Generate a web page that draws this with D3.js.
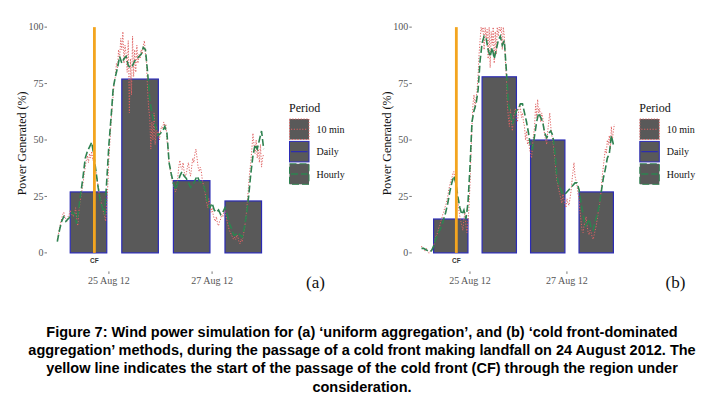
<!DOCTYPE html>
<html>
<head>
<meta charset="utf-8">
<script src="https://cdn.jsdelivr.net/npm/d3@7"></script>
<style>
  html, body { margin: 0; padding: 0; background: #fff; }
  svg { display: block; }
</style>
</head>
<body>
<svg id="chart" width="721" height="397"></svg>
<script>
// values
var startTime = "2012-08-24T00:00:00Z";
var cfTime = "2012-08-24T17:15:00Z";
var days = ["2012-08-24", "2012-08-25", "2012-08-26", "2012-08-27"];
var dailyA = [27, 77, 32, 23];
var dailyB = [15, 78, 50, 27];

// hourly values, one per hour from 24 Aug 00:00
var hourlyA = [5, 10, 14, 16, 14, 15, 16, 18, 17, 13, 20, 27,
  34, 42, 45, 47, 49, 43, 36, 29, 23, 20, 17, 32,
  48, 60, 73, 78, 82, 87, 84, 86, 87, 83, 82, 83,
  85, 86, 87, 88, 91, 90, 80, 68, 62, 58, 55, 52,
  53, 54, 56, 53, 40, 35, 31, 28, 31, 34, 36, 34,
  33, 31, 29, 30, 32, 34, 32, 31, 30, 27, 22, 20,
  22, 19, 18, 19, 17, 18, 20, 17, 13, 11, 8, 8,
  9, 8, 7, 11, 17, 25, 35, 43, 48, 46, 50, 54,
  46];
var hourlyB = [2, 2, 1.5, 1, 0.5, 1, 3, 6, 8, 10, 12, 15,
  18, 22, 27, 31, 34, 31, 25, 20, 17, 19, 15, 22,
  38, 58, 63, 66, 72, 85, 93, 96, 95, 90, 87, 91,
  86, 90, 94, 96, 92, 94, 81, 66, 62, 57, 60, 63,
  64, 66, 66, 62, 58, 53, 47, 46, 52, 58, 62, 60,
  58, 53, 51, 53, 54, 52, 45, 34, 30, 28, 26, 26,
  27, 28, 29, 30, 31, 31, 28, 22, 17, 12, 13, 15,
  11, 10, 14, 17, 21, 27, 33, 37, 42, 44, 52, 48];

// 10 min series, read every half hour (the picture is too small for more)
var tenMinA = [6, 8, 11, 13, 15, 17, 18, 16, 15, 14, 16, 17, 19, 17, 18, 16, 17, 20, 15, 12, 18, 22, 25, 28,
  31, 35, 38, 41, 43, 40, 44, 42, 45, 41, 42, 38, 36, 32, 30, 26, 24, 22, 20, 18, 16, 14, 22, 30,
  42, 50, 58, 64, 70, 76, 78, 84, 82, 90, 86, 95, 90, 98, 84, 92, 88, 80, 94, 62, 86, 70, 96, 78,
  90, 80, 92, 84, 88, 86, 90, 88, 92, 94, 88, 84, 72, 64, 60, 46, 58, 50, 62, 48, 56, 52, 54, 50,
  54, 56, 55, 58, 56, 57, 50, 46, 40, 37, 34, 32, 30, 28, 27, 29, 33, 38, 41, 38, 37, 40, 36, 34,
  35, 38, 40, 36, 34, 38, 42, 40, 44, 46, 42, 38, 36, 38, 36, 32, 30, 28, 25, 22, 20, 24, 22, 18,
  20, 17, 15, 14, 16, 13, 12, 14, 15, 17, 16, 18, 19, 16, 14, 12, 10, 9, 8, 7, 6, 7, 6, 8,
  7, 5, 4, 6, 5, 8, 10, 14, 18, 24, 30, 36, 40, 46, 53, 48, 44, 50, 42, 46, 40, 48, 38, 42,
  44];
var tenMinB = [3, 2, 2, 1, 1, 2, 1, 0, 0, 1, 1, 2, 3, 5, 7, 8, 9, 11, 12, 14, 15, 17, 18, 20,
  21, 23, 25, 28, 30, 32, 33, 35, 36, 33, 30, 27, 23, 19, 16, 14, 12, 10, 15, 18, 12, 9, 13, 20,
  30, 44, 56, 66, 70, 64, 68, 72, 78, 88, 94, 100, 98, 100, 90, 100, 95, 99, 86, 100, 82, 98, 92, 100,
  84, 98, 88, 100, 96, 100, 98, 100, 90, 100, 96, 86, 78, 66, 60, 56, 64, 58, 54, 60, 62, 64, 60, 58,
  62, 66, 64, 60, 62, 58, 56, 50, 54, 48, 50, 46, 44, 42, 48, 52, 56, 66, 60, 68, 62, 64, 58, 62,
  60, 56, 52, 50, 48, 54, 58, 62, 56, 52, 50, 46, 42, 36, 32, 30, 28, 26, 24, 22, 26, 24, 22, 20,
  24, 22, 21, 24, 27, 32, 36, 40, 34, 32, 30, 26, 24, 18, 14, 10, 9, 12, 14, 16, 12, 9, 8, 10,
  9, 7, 6, 8, 10, 12, 15, 18, 20, 24, 28, 34, 38, 42, 46, 44, 50, 48, 52, 46, 56, 50, 54, 57];

var yTicks = [0, 25, 50, 75, 100];
var xTicks = ["2012-08-25", "2012-08-27"];
var periods = ["10 min", "Daily", "Hourly"];
var caption = [
  "Figure 7: Wind power simulation for (a) \u2018uniform aggregation\u2019, and (b) \u2018cold front-dominated",
  "aggregation\u2019 methods, during the passage of a cold front making landfall on 24 August 2012. The",
  "yellow line indicates the start of the passage of the cold front (CF) through the region under",
  "consideration."
];

var serif = "'Liberation Serif', 'Times New Roman', serif";
var look = {
  "10 min": {stroke: "#e06363", dash: "1.2,1.6", width: 1},
  "Daily": {stroke: "#2b2bb5", dash: null, width: 1.2},
  "Hourly": {stroke: "#2e8250", dash: "7,3", width: 1.6}
};

var svg = d3.select("#chart");
svg.append("rect").attr("width", 721).attr("height", 397).attr("fill", "#fff");

var t0 = new Date(startTime);
function hrs(h) { return new Date(t0.getTime() + h * 3600e3); }

function panel(opt) {
  var g = svg.append("g");

  var x = d3.scaleUtc()
    .domain([hrs(-4.8), hrs(100.8)])
    .range([opt.left, opt.right]);
  var y = d3.scaleLinear()
    .domain([-8.2, 105.2])
    .range([271.4, 15.4]);

  // daily bars
  g.selectAll(".bar")
    .data(opt.daily)
    .enter()
    .append("rect")
      .attr("x", function(d, i) { return x(d3.utcHour.offset(new Date(days[i]), 6)); })
      .attr("width", function(d, i) {
        var day = new Date(days[i]);
        return x(d3.utcHour.offset(day, 23)) - x(d3.utcHour.offset(day, 6));
      })
      .attr("y", function(d) { return y(d); })
      .attr("height", function(d) { return y(0) - y(d); })
      .attr("fill", "#595959")
      .attr("stroke", look.Daily.stroke)
      .attr("stroke-width", look.Daily.width);

  // 10 min and hourly lines
  var lineTen = d3.line()
    .x(function(d, i) { return x(hrs(i / 2)); })
    .y(function(d) { return y(d); });
  var lineHour = d3.line()
    .x(function(d, i) { return x(hrs(i)); })
    .y(function(d) { return y(d); });

  g.append("path")
    .attr("d", lineTen(opt.tenMin))
    .attr("fill", "none")
    .attr("stroke", look["10 min"].stroke)
    .attr("stroke-width", look["10 min"].width)
    .attr("stroke-dasharray", look["10 min"].dash);

  g.append("path")
    .attr("d", lineHour(opt.hourly))
    .attr("fill", "none")
    .attr("stroke", look.Hourly.stroke)
    .attr("stroke-width", look.Hourly.width)
    .attr("stroke-dasharray", look.Hourly.dash);

  // cold front marker
  var cf = new Date(cfTime);
  g.append("line")
    .attr("x1", x(cf)).attr("x2", x(cf))
    .attr("y1", y(0)).attr("y2", y(100))
    .attr("stroke", "#f3a51f")
    .attr("stroke-width", 2.8);
  g.append("text")
    .attr("x", x(cf))
    .attr("y", y(-4.3))
    .attr("text-anchor", "middle")
    .attr("font-family", "'Liberation Sans', Arial, sans-serif")
    .attr("font-weight", "bold")
    .attr("font-size", "6.5px")
    .attr("fill", "#333")
    .text("CF");

  // y axis
  var ya = g.append("g");
  ya.selectAll("line")
    .data(yTicks)
    .enter()
    .append("line")
      .attr("x1", opt.left - 2.5).attr("x2", opt.left)
      .attr("y1", function(d) { return y(d); })
      .attr("y2", function(d) { return y(d); })
      .attr("stroke", "#555").attr("stroke-width", 0.8);
  ya.selectAll("text")
    .data(yTicks)
    .enter()
    .append("text")
      .attr("x", opt.left - 3.5)
      .attr("y", function(d) { return y(d); })
      .attr("dy", "0.33em")
      .attr("text-anchor", "end")
      .attr("font-family", serif)
      .attr("font-size", "10px")
      .attr("fill", "#555")
      .text(function(d) { return d; });

  g.append("text")
    .attr("transform", "translate(" + (opt.left - 21) + "," + ((y.range()[0] + y.range()[1]) / 2) + ") rotate(-90)")
    .attr("text-anchor", "middle")
    .attr("font-family", serif)
    .attr("font-size", "12px")
    .attr("fill", "#111")
    .text("Power Generated (%)");

  // x axis
  var xa = g.append("g");
  xa.selectAll("line")
    .data(xTicks)
    .enter()
    .append("line")
      .attr("x1", function(d) { return x(new Date(d)); })
      .attr("x2", function(d) { return x(new Date(d)); })
      .attr("y1", y.range()[0]).attr("y2", y.range()[0] + 2.5)
      .attr("stroke", "#555").attr("stroke-width", 0.8);
  xa.selectAll("text")
    .data(xTicks)
    .enter()
    .append("text")
      .attr("x", function(d) { return x(new Date(d)); })
      .attr("y", y.range()[0] + 12.3)
      .attr("text-anchor", "middle")
      .attr("font-family", serif)
      .attr("font-size", "10px")
      .attr("fill", "#555")
      .text(function(d) { return d3.utcFormat("%d %b %y")(new Date(d)); });

  // legend
  var lg = g.append("g").attr("transform", "translate(" + opt.legendX + ",0)");
  lg.append("text")
    .attr("x", 0).attr("y", 112)
    .attr("font-family", serif)
    .attr("font-size", "12px")
    .attr("fill", "#111")
    .text("Period");
  var key = lg.selectAll(".key")
    .data(periods)
    .enter()
    .append("g")
      .attr("transform", function(d, i) { return "translate(0," + (118.5 + i * 22.4) + ")"; });
  key.append("rect")
    .attr("x", 0.5).attr("y", 0.5)
    .attr("width", 19.5).attr("height", 20.5)
    .attr("fill", "#595959")
    .attr("stroke", function(d) { return look[d].stroke; })
    .attr("stroke-width", 1)
    .attr("stroke-dasharray", function(d) { return look[d].dash; });
  key.append("line")
    .attr("x1", 2).attr("x2", 18.5)
    .attr("y1", 10.75).attr("y2", 10.75)
    .attr("stroke", function(d) { return look[d].stroke; })
    .attr("stroke-width", function(d) { return look[d].width; })
    .attr("stroke-dasharray", function(d) { return look[d].dash; });
  key.append("text")
    .attr("x", 27.5).attr("y", 14.5)
    .attr("font-family", serif)
    .attr("font-size", "10px")
    .attr("fill", "#111")
    .text(function(d) { return d; });

  g.append("text")
    .attr("x", opt.labelX).attr("y", 288)
    .attr("text-anchor", "middle")
    .attr("font-family", serif)
    .attr("font-size", "17px")
    .attr("fill", "#111")
    .text(opt.label);
}

panel({left: 47, right: 274, daily: dailyA, hourly: hourlyA, tenMin: tenMinA, legendX: 289, labelX: 315.5, label: "(a)"});
panel({left: 411.8, right: 625.1, daily: dailyB, hourly: hourlyB, tenMin: tenMinB, legendX: 639.3, labelX: 675.5, label: "(b)"});

// caption
svg.append("g")
  .selectAll("text")
  .data(caption)
  .enter()
  .append("text")
    .attr("x", 362)
    .attr("y", function(d, i) { return 336.5 + i * 18.4; })
    .attr("text-anchor", "middle")
    .attr("font-family", "'Liberation Sans', Arial, sans-serif")
    .attr("font-weight", "bold")
    .attr("font-size", "14.5px")
    .attr("fill", "#000")
    .text(function(d) { return d; });
</script>
</body>
</html>
